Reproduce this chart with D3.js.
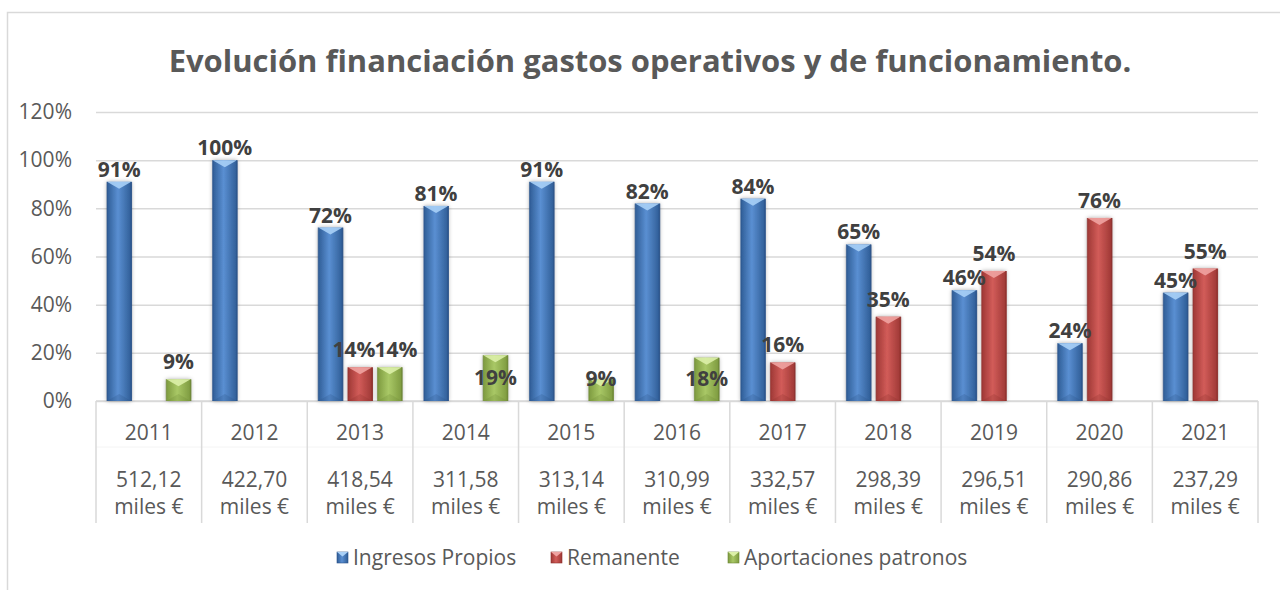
<!DOCTYPE html>
<html>
<head>
<meta charset="utf-8">
<script src="https://cdn.jsdelivr.net/npm/d3@7"></script>
<style>
  body { margin: 0; background: #fff; }
  svg { display: block; font-family: "Open Sans", "DejaVu Sans", sans-serif; }
</style>
</head>
<body>
<svg id="chart" width="1280" height="590"></svg>
<script>
// data
const years = ["2011", "2012", "2013", "2014", "2015", "2016", "2017", "2018", "2019", "2020", "2021"];
const amounts = ["512,12", "422,70", "418,54", "311,58", "313,14", "310,99", "332,57", "298,39", "296,51", "290,86", "237,29"];
const seriesNames = ["Ingresos Propios", "Remanente", "Aportaciones patronos"];
const ingresos = [0.91, 1.00, 0.72, 0.81, 0.91, 0.82, 0.84, 0.65, 0.46, 0.24, 0.45];
const remanente = [null, null, 0.14, null, null, null, 0.16, 0.35, 0.54, 0.76, 0.55];
const aportaciones = [0.09, null, 0.14, 0.19, 0.09, 0.18, null, null, null, null, null];
const yTicks = [0, 0.2, 0.4, 0.6, 0.8, 1.0, 1.2];
// Excel put these labels inside the bar
const insideLabels = { "Aportaciones patronos": ["2014", "2015", "2016"] };

const colors = {
  "Ingresos Propios": { edge: "#2f5d96", mid: "#5a8fd2", cap: "#a9d0f7", base: "#2a5289" },
  "Remanente": { edge: "#9e3835", mid: "#d25c59", cap: "#efa3a1", base: "#8d2f2c" },
  "Aportaciones patronos": { edge: "#7d9a3f", mid: "#a9c866", cap: "#dcf0a8", base: "#6c8634" }
};
// gap between bar top and label baseline (the 3d depth pushes the back series up)
const labelGap = [5, 10, 10];
const values = [ingresos, remanente, aportaciones];

const svg = d3.select("#chart");
const plotLeft = 96, plotRight = 1258, plotTop = 112, plotBottom = 401;
const fs = 21;

// chart border
svg.append("rect")
  .attr("x", 7.5).attr("y", 12.5)
  .attr("width", 1400).attr("height", 700)
  .attr("fill", "none").attr("stroke", "#d9d9d9").attr("stroke-width", 1.5);

const defs = svg.append("defs");
seriesNames.forEach((s, i) => {
  const g = defs.append("linearGradient").attr("id", "grad" + i)
    .attr("x1", "0").attr("x2", "1").attr("y1", "0").attr("y2", "0");
  g.append("stop").attr("offset", "0%").attr("stop-color", colors[s].edge);
  g.append("stop").attr("offset", "45%").attr("stop-color", colors[s].mid);
  g.append("stop").attr("offset", "100%").attr("stop-color", colors[s].edge);
});
const shadow = defs.append("filter").attr("id", "shadow")
  .attr("x", "-50%").attr("y", "-20%").attr("width", "200%").attr("height", "140%");
shadow.append("feDropShadow").attr("dx", 0).attr("dy", 0)
  .attr("stdDeviation", 2).attr("flood-color", "#000").attr("flood-opacity", 0.35);

const y = d3.scaleLinear().domain([0, 1.2]).range([plotBottom, plotTop]);
const x0 = d3.scaleBand().domain(years).range([plotLeft, plotRight]).paddingInner(0).paddingOuter(0);
const x1 = d3.scaleBand().domain(seriesNames).range([11, x0.bandwidth() - 11]).paddingInner(0.18);

// title
const title = svg.append("text")
  .attr("x", 650).attr("y", 72)
  .attr("text-anchor", "middle")
  .attr("font-weight", "bold")
  .attr("font-size", 28)
  .attr("fill", "#595959")
  .text("Evolución financiación gastos operativos y de funcionamiento.");
const tw = title.node().getComputedTextLength();
title.attr("font-size", 28 * 963 / tw);

// y axis + grid
const yAxis = svg.append("g")
  .attr("transform", `translate(${plotLeft},0)`)
  .call(d3.axisLeft(y).tickValues(yTicks).tickFormat(d3.format(".0%"))
    .tickSize(-(plotRight - plotLeft)).tickPadding(24));
yAxis.select(".domain").remove();
yAxis.selectAll(".tick line").attr("stroke", "#d9d9d9").attr("stroke-width", 1.5);
yAxis.selectAll(".tick text")
  .attr("font-size", fs).attr("fill", "#595959")
  .attr("font-family", "'Open Sans', sans-serif");

// category axis (two levels)
const xAxis = svg.append("g");
xAxis.append("line")
  .attr("x1", plotLeft).attr("x2", plotRight).attr("y1", plotBottom).attr("y2", plotBottom)
  .attr("stroke", "#d9d9d9").attr("stroke-width", 1.5);
xAxis.append("line")
  .attr("x1", plotLeft).attr("x2", plotRight).attr("y1", 447).attr("y2", 447)
  .attr("stroke", "#f4f4f4").attr("stroke-width", 1);
xAxis.selectAll(".divider")
  .data(years.concat(["end"]))
  .join("line")
  .attr("class", "divider")
  .attr("x1", (d, i) => i < years.length ? x0(d) : plotRight)
  .attr("x2", (d, i) => i < years.length ? x0(d) : plotRight)
  .attr("y1", plotBottom).attr("y2", 523)
  .attr("stroke", "#d9d9d9").attr("stroke-width", 1.5);
const cat = xAxis.selectAll(".cat")
  .data(years)
  .join("g")
  .attr("class", "cat")
  .attr("transform", (d) => `translate(${x0(d) + x0.bandwidth() / 2},0)`);
cat.append("text").attr("y", 440).text((d) => d);
cat.append("text").attr("y", 487).text((d, i) => amounts[i]);
cat.append("text").attr("y", 514).text("miles €");
cat.selectAll("text")
  .attr("text-anchor", "middle").attr("font-size", fs).attr("fill", "#595959");

// bars
const points = [];
seriesNames.forEach((s, si) => {
  values[si].forEach((v, i) => {
    if (v === null) return;
    points.push({ series: s, si: si, year: years[i], value: v });
  });
});

const barG = svg.append("g");
const bar = barG.selectAll(".bar")
  .data(points)
  .join("g")
  .attr("class", "bar")
  .attr("transform", (d) => `translate(${x0(d.year) + x1(d.series)},0)`);
const bw = x1.bandwidth();
bar.append("rect")
  .attr("x", 0).attr("y", (d) => y(d.value))
  .attr("width", bw).attr("height", (d) => y(0) - y(d.value))
  .attr("fill", (d) => `url(#grad${d.si})`)
  .attr("filter", "url(#shadow)");
// bevel: light cap on top, darker wedge at the base
bar.append("path")
  .attr("d", (d) => {
    const t = y(d.value), h = Math.min(7, (y(0) - t) / 2);
    return `M0,${t}L${bw},${t}L${bw / 2},${t + h}Z`;
  })
  .attr("fill", (d) => colors[d.series].cap).attr("opacity", 0.9);
bar.append("path")
  .attr("d", (d) => {
    const b = y(0), h = Math.min(7, (y(0) - y(d.value)) / 2);
    return `M0,${b}L${bw},${b}L${bw / 2},${b - h}Z`;
  })
  .attr("fill", (d) => colors[d.series].base).attr("opacity", 0.25);
bar.append("path")
  .attr("d", (d) => `M0,${y(d.value)}V${y(0)}`)
  .attr("stroke", (d) => colors[d.series].base).attr("stroke-width", 1.2).attr("opacity", 0.6);
bar.append("path")
  .attr("d", (d) => `M${bw},${y(d.value)}V${y(0)}`)
  .attr("stroke", (d) => colors[d.series].base).attr("stroke-width", 1.5).attr("opacity", 0.9);

// data labels
const isInside = (d) => (insideLabels[d.series] || []).includes(d.year);
points.forEach((d) => {
  d.lx = x0(d.year) + x1(d.series) + bw / 2;
  d.ly = isInside(d) ? Math.min(y(d.value / 2), y(0) - 22) + 7 : y(d.value) - labelGap[d.si];
});
// push apart labels that collide within a category
const labelW = 44;
points.forEach((a) => {
  points.forEach((b) => {
    if (a === b || a.year !== b.year || a.si >= b.si) return;
    if (Math.abs(a.ly - b.ly) < 14 && b.lx - a.lx < labelW) {
      const push = (labelW - (b.lx - a.lx)) / 2 - 1;
      a.lx -= push;
      b.lx += push;
    }
  });
});
svg.append("g").selectAll(".lbl")
  .data(points)
  .join("text")
  .attr("class", "lbl")
  .attr("x", (d) => d.lx).attr("y", (d) => d.ly)
  .attr("text-anchor", "middle")
  .attr("font-size", fs).attr("font-weight", "bold").attr("fill", "#404040")
  .text((d) => d3.format(".0%")(d.value));

// legend
const legendX = [337, 551, 728];
const leg = svg.append("g").selectAll(".leg")
  .data(seriesNames)
  .join("g")
  .attr("class", "leg")
  .attr("transform", (d, i) => `translate(${legendX[i]},552)`);
leg.append("rect")
  .attr("width", 11).attr("height", 11)
  .attr("fill", (d, i) => `url(#grad${i})`)
  .attr("stroke", (d) => colors[d].base).attr("stroke-width", 0.6);
leg.append("path")
  .attr("d", "M0,0L11,0L5.5,4.5Z")
  .attr("fill", (d) => colors[d].cap);
leg.append("text")
  .attr("x", 16).attr("y", 13)
  .attr("font-size", fs).attr("fill", "#595959")
  .text((d) => d);
</script>
</body>
</html>
